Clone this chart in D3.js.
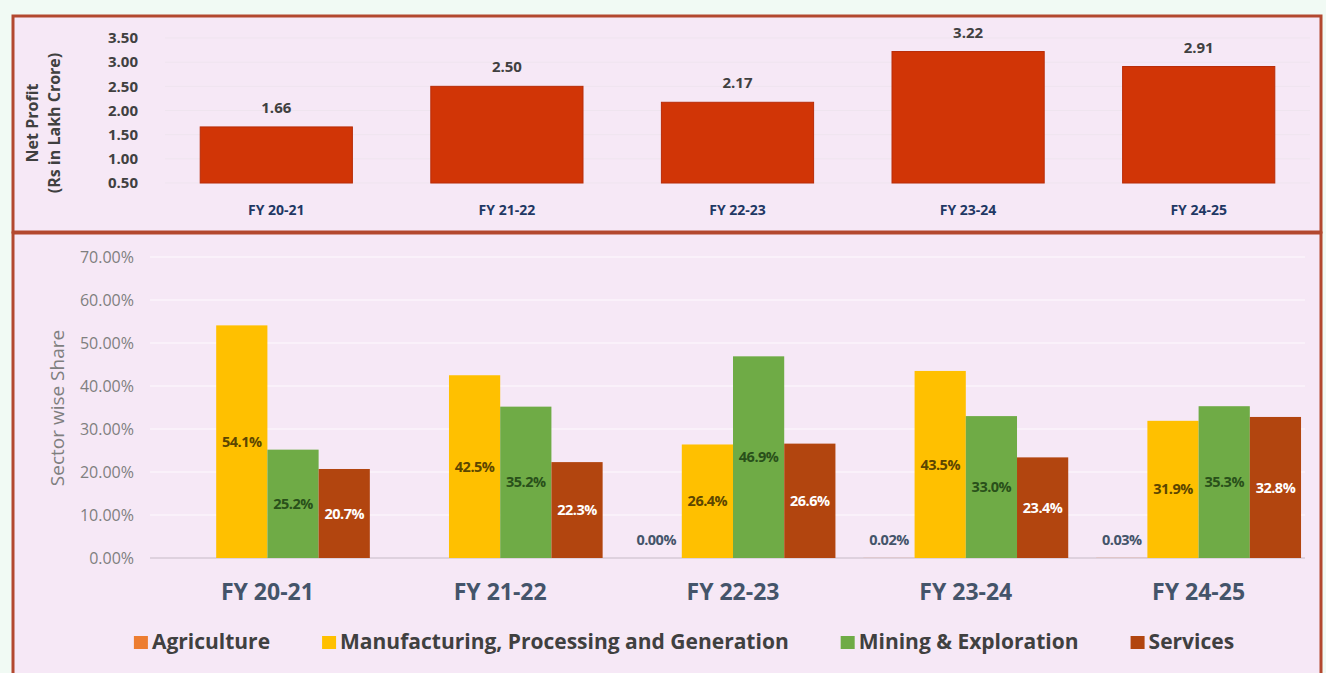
<!DOCTYPE html>
<html>
<head>
<meta charset="utf-8">
<script src="https://cdn.jsdelivr.net/npm/d3@7"></script>
<style>
  body { margin: 0; background: #f1faf4; }
  svg { display: block; font-family: "Open Sans", Lato, sans-serif; }
</style>
</head>
<body>
<svg width="1326" height="673"></svg>
<script>
// data
const years = ["FY 20-21", "FY 21-22", "FY 22-23", "FY 23-24", "FY 24-25"];
const netProfit = [1.66, 2.50, 2.17, 3.22, 2.91];
const profitTicks = [0.5, 1.0, 1.5, 2.0, 2.5, 3.0, 3.5];

const sectors = ["Agriculture", "Manufacturing, Processing and Generation", "Mining & Exploration", "Services"];
const agriculture = [null, null, 0.00, 0.02, 0.03];
const manufacturing = [54.1, 42.5, 26.4, 43.5, 31.9];
const mining = [25.2, 35.2, 46.9, 33.0, 35.3];
const services = [20.7, 22.3, 26.6, 23.4, 32.8];
const shareTicks = [0, 10, 20, 30, 40, 50, 60, 70];

const svg = d3.select("svg");
const panelFill = "#f6e8f6", panelStroke = "#b3482f";

// panels
svg.append("rect").attr("x", 13).attr("y", 16).attr("width", 1308).attr("height", 216)
  .attr("fill", panelFill).attr("stroke", panelStroke).attr("stroke-width", 3);
svg.append("rect").attr("x", 13).attr("y", 233).attr("width", 1308).attr("height", 460)
  .attr("fill", panelFill).attr("stroke", panelStroke).attr("stroke-width", 3);

// ---------- top: net profit ----------
const xTop = d3.scaleBand().domain(years).range([161, 1314]).paddingInner(0.34).paddingOuter(0.17);
const yTop = d3.scaleLinear().domain([0.5, 3.5]).range([183, 38]);
const gTop = svg.append("g");

gTop.selectAll(".pgrid").data(profitTicks).enter().append("line")
  .attr("x1", 165).attr("x2", 1310)
  .attr("y1", d => yTop(d)).attr("y2", d => yTop(d))
  .attr("stroke", "#efe4ef").attr("stroke-width", 1);

gTop.selectAll(".ptick").data(profitTicks).enter().append("text")
  .attr("x", 138).attr("y", d => yTop(d)).attr("dy", "0.35em")
  .attr("text-anchor", "end")
  .style("font-size", "15px").style("font-weight", "700").attr("fill", "#404040")
  .text(d => d3.format(".2f")(d));

gTop.selectAll(".pbar").data(netProfit).enter().append("rect")
  .attr("x", (d, i) => xTop(years[i]))
  .attr("width", xTop.bandwidth())
  .attr("y", d => yTop(d))
  .attr("height", d => yTop(0.5) - yTop(d))
  .attr("fill", "#d13506").attr("stroke", "#b82c08").attr("stroke-width", 1);

gTop.selectAll(".pval").data(netProfit).enter().append("text")
  .attr("x", (d, i) => xTop(years[i]) + xTop.bandwidth() / 2)
  .attr("y", d => yTop(d) - 14)
  .attr("text-anchor", "middle")
  .style("font-size", "15px").style("font-weight", "700").attr("fill", "#404040")
  .text(d => d3.format(".2f")(d));

gTop.selectAll(".pcat").data(years).enter().append("text")
  .attr("x", d => xTop(d) + xTop.bandwidth() / 2)
  .attr("y", 215)
  .attr("text-anchor", "middle")
  .style("font-size", "14px").style("font-weight", "700").attr("fill", "#1f3864")
  .text(d => d);

const tTitle = gTop.append("text")
  .attr("transform", "translate(44,123) rotate(-90)")
  .attr("text-anchor", "middle")
  .style("font-size", "16px").style("font-weight", "700").attr("fill", "#404040");
tTitle.append("tspan").attr("x", 0).attr("dy", "-0.35em").text("Net Profit");
tTitle.append("tspan").attr("x", 0).attr("dy", "1.35em").text("(Rs in Lakh Crore)");

// ---------- bottom: sector share ----------
const seriesValues = [agriculture, manufacturing, mining, services];
const colors = ["#ed7d31", "#ffc000", "#6fab46", "#b2450f"];
const labelColors = ["#44546a", "#5c4600", "#29501a", "#ffffff"];

const x0 = d3.scaleBand().domain(years).range([151, 1315]).paddingInner(0.12).paddingOuter(0.06);
const x1 = d3.scaleBand().domain(sectors).range([0, x0.bandwidth()]);
const yBot = d3.scaleLinear().domain([0, 70]).range([558, 257]);
const gBot = svg.append("g");

gBot.selectAll(".sgrid").data(shareTicks).enter().append("line")
  .attr("x1", 150).attr("x2", 1305)
  .attr("y1", d => yBot(d)).attr("y2", d => yBot(d))
  .attr("stroke", d => d === 0 ? "#d6cad6" : "#fbf4fb").attr("stroke-width", 1.5);

gBot.selectAll(".stick").data(shareTicks).enter().append("text")
  .attr("x", 134).attr("y", d => yBot(d)).attr("dy", "0.35em")
  .attr("text-anchor", "end")
  .style("font-size", "16px").attr("fill", "#7f7f7f")
  .text(d => d3.format(".2f")(d) + "%");

gBot.append("text")
  .attr("transform", "translate(57,408) rotate(-90)")
  .attr("text-anchor", "middle")
  .attr("dy", "0.35em")
  .style("font-size", "19px").attr("fill", "#7f7f7f")
  .text("Sector wise Share");

const flat = [];
seriesValues.forEach((vals, s) => vals.forEach((v, i) => {
  if (v !== null) flat.push({ sector: sectors[s], s, year: years[i], v });
}));

gBot.selectAll(".sbar").data(flat).enter().append("rect")
  .attr("x", d => x0(d.year) + x1(d.sector))
  .attr("width", x1.bandwidth())
  .attr("y", d => yBot(d.v))
  .attr("height", d => yBot(0) - yBot(d.v))
  .attr("fill", d => colors[d.s]);

gBot.selectAll(".sval").data(flat).enter().append("text")
  .attr("x", d => x0(d.year) + x1(d.sector) + x1.bandwidth() / 2)
  .attr("y", d => d.s === 0 ? yBot(0) - 18 : yBot(d.v / 2))
  .attr("dy", "0.35em")
  .attr("text-anchor", "middle")
  .style("font-size", "14.5px").style("font-weight", "700").style("letter-spacing", "-0.5px")
  .attr("fill", d => labelColors[d.s])
  .text(d => d.s === 0 ? d3.format(".2f")(d.v) + "%" : d3.format(".1f")(d.v) + "%");

gBot.selectAll(".scat").data(years).enter().append("text")
  .attr("x", d => x0(d) + x0.bandwidth() / 2)
  .attr("y", 600)
  .attr("text-anchor", "middle")
  .style("font-size", "23px").style("font-weight", "700").attr("fill", "#44546a")
  .text(d => d);

// legend
const legend = gBot.append("g");
let lx = 0;
sectors.forEach((name, s) => {
  const item = legend.append("g").attr("transform", `translate(${lx},0)`);
  item.append("rect").attr("x", 0).attr("y", -6).attr("width", 14).attr("height", 13).attr("fill", colors[s]);
  const t = item.append("text").attr("x", 18).attr("y", 0).attr("dy", "0.35em")
    .style("font-size", "21px").style("font-weight", "700").attr("fill", "#404040")
    .text(name);
  lx += 18 + t.node().getComputedTextLength() + 52;
});
lx -= 52;
legend.attr("transform", `translate(${684 - lx / 2},642)`);
</script>
</body>
</html>
